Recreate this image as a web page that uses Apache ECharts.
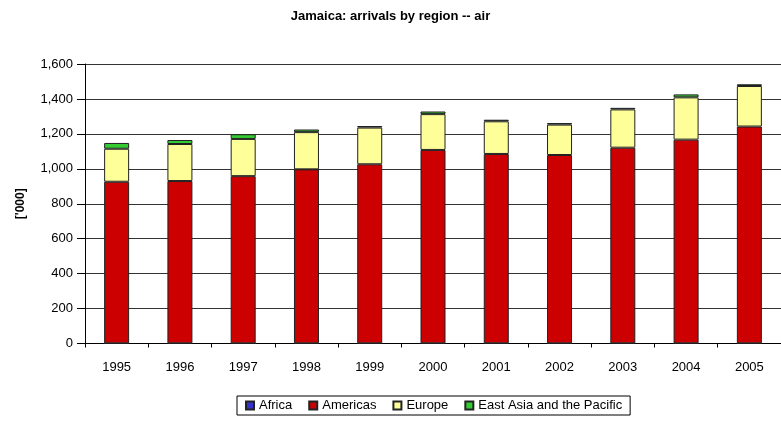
<!DOCTYPE html>
<html>
<head>
<meta charset="utf-8">
<script src="https://cdn.jsdelivr.net/npm/echarts@6/dist/echarts.min.js"></script>
<style>
html,body{margin:0;padding:0;background:#fff;}
#chart{width:781px;height:423px;}
</style>
</head>
<body>
<div id="chart"></div>
<script>
var years = ['1995','1996','1997','1998','1999','2000','2001','2002','2003','2004','2005'];
var africa   = [1, 1, 1, 1, 1, 1, 1, 1, 1, 1, 1];
var americas = [925, 929, 957, 996, 1025, 1107, 1084, 1078, 1120, 1166, 1241];
var europe   = [189, 212, 213, 213, 210, 205, 187, 174, 219, 242, 232];
var eastAsia = [33, 23, 27, 15, 9, 15, 9, 9, 9, 17, 10];
var yTicks = [0, 200, 400, 600, 800, 1000, 1200, 1400, 1600];

var font = 'Liberation Sans, Arial, sans-serif';
function mk(name, data, color) {
  return {
    name: name, type: 'bar', stack: 'total', data: data, barWidth: 25,
    itemStyle: { color: color, borderColor: '#222', borderWidth: 1 }
  };
}
var chart = echarts.init(document.getElementById('chart'));
chart.setOption({
  animation: false,
  backgroundColor: '#fff',
  title: {
    text: 'Jamaica: arrivals by region -- air',
    left: 'center', top: 5,
    textStyle: { fontFamily: font, fontSize: 13, fontWeight: 'bold', color: '#000' }
  },
  legend: {
    left: 237, top: 396,
    itemWidth: 8, itemHeight: 8, itemGap: 16,
    icon: 'rect',
    borderColor: '#000', borderWidth: 1, padding: [3, 8, 3, 8],
    textStyle: { fontFamily: font, fontSize: 13, color: '#000' },
    data: ['Africa', 'Americas', 'Europe', 'East Asia and the Pacific']
  },
  grid: { left: 85, top: 64, width: 708, height: 279.5, containLabel: false },
  xAxis: {
    type: 'category', data: years,
    axisLine: { lineStyle: { color: '#000', width: 1 } },
    axisTick: { show: true, length: 4, alignWithLabel: false, lineStyle: { color: '#000' } },
    axisLabel: { fontFamily: font, fontSize: 13, color: '#000', margin: 17 }
  },
  yAxis: {
    type: 'value', min: 0, max: 1600, interval: 200,
    name: "['000]", nameLocation: 'middle', nameGap: 58, nameRotate: 90,
    nameTextStyle: { fontFamily: font, fontSize: 12, fontWeight: 'bold', color: '#000' },
    axisLine: { show: true, lineStyle: { color: '#000', width: 1 } },
    axisTick: { show: true, length: 8, lineStyle: { color: '#000' } },
    axisLabel: {
      fontFamily: font, fontSize: 13, color: '#000', margin: 12,
      formatter: function (v) { return v.toLocaleString('en-US'); }
    },
    splitLine: { show: true, lineStyle: { color: '#333', width: 1 } }
  },
  series: [
    mk('Africa', africa, '#3333CC'),
    mk('Americas', americas, '#CC0000'),
    mk('Europe', europe, '#FFFF99'),
    mk('East Asia and the Pacific', eastAsia, '#33CC33')
  ]
});
</script>
</body>
</html>
